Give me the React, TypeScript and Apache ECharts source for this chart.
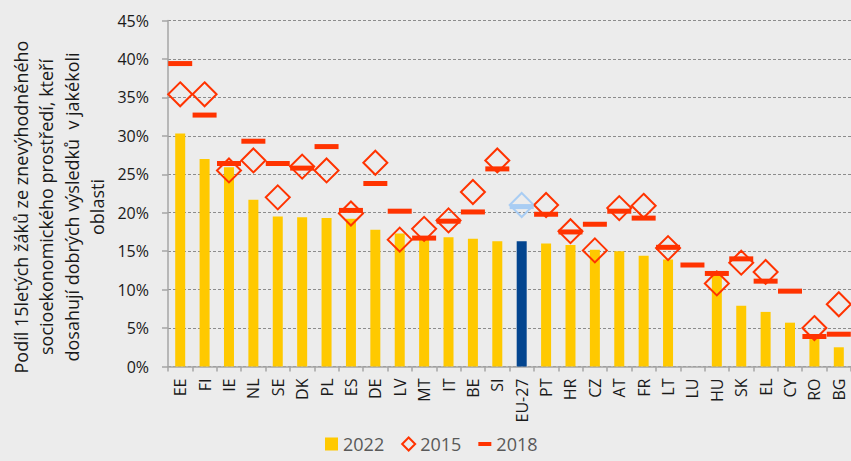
import React, { useEffect, useRef } from "react";
import * as echarts from "echarts";

const categories = ["EE","FI","IE","NL","SE","DK","PL","ES","DE","LV","MT","IT","BE","SI","EU-27","PT","HR","CZ","AT","FR","LT","LU","HU","SK","EL","CY","RO","BG"];
const values2022: (number | null)[] = [30.3,27.0,25.9,21.7,19.5,19.4,19.3,19.2,17.8,17.3,16.9,16.8,16.6,16.3,16.3,16.0,15.8,15.2,15.0,14.4,13.9,null,11.9,7.9,7.1,5.7,3.6,2.5];
const values2015: (number | null)[] = [35.4,35.4,25.5,26.8,22.0,26.0,25.5,19.9,26.5,16.5,17.9,19.0,22.7,26.8,21.0,21.0,17.6,15.1,20.6,20.9,15.4,null,10.8,13.5,12.3,null,5.0,8.1];
const values2018: (number | null)[] = [39.4,32.7,26.4,29.3,26.4,25.8,28.6,20.3,23.8,20.2,16.7,18.9,20.1,25.7,20.8,19.8,17.5,18.5,20.2,19.3,15.5,13.2,12.1,14.0,11.1,9.8,3.9,4.2];
const yTicks = [0,5,10,15,20,25,30,35,40,45];
const seriesNames = ["2022","2015","2018"];
const highlightCategory = "EU-27";
const yTitle = "Podíl 15letých žáků ze znevýhodněného\nsocioekonomického prostředí, kteří\ndosahují dobrých výsledků  v jakékoli\noblasti";

const YELLOW = "#ffc900";
const BLUE = "#03458f";
const RED = "#ff3300";
const LIGHTBLUE = "#a9cdf3";
const FONT = "'Open Sans', sans-serif";

export default function App() {
  const ref = useRef<HTMLDivElement>(null);
  useEffect(() => {
    if (!ref.current) return;
    const chart = echarts.init(ref.current, undefined, { renderer: "svg" });
    const hi = (c: string) => c === highlightCategory;
    chart.setOption({
      animation: false,
      backgroundColor: "#ececec",
      textStyle: { fontFamily: FONT },
      grid: { left: 168, right: -8, top: 20.5, bottom: 94.5 },
      xAxis: {
        type: "category",
        data: categories,
        axisLine: { lineStyle: { color: "#a6a6a6", width: 1.5 } },
        axisTick: { show: true, interval: 0, length: 5, lineStyle: { color: "#a6a6a6", width: 1.5 } },
        axisLabel: { interval: 0, rotate: 90, margin: 12, fontSize: 16, color: "#1a1a1a", fontFamily: FONT },
      },
      yAxis: {
        type: "value",
        min: yTicks[0],
        max: yTicks[yTicks.length - 1],
        interval: yTicks[1] - yTicks[0],
        axisLine: { show: true, lineStyle: { color: "#a6a6a6", width: 1.5 } },
        axisTick: { show: true, length: 6, lineStyle: { color: "#a6a6a6", width: 1.5 } },
        axisLabel: { formatter: "{value}%", margin: 19, fontSize: 16, color: "#1a1a1a", fontFamily: FONT },
        splitLine: { show: true, lineStyle: { color: "#8c8c8c", type: [3, 2], width: 1 } },
      },
      legend: {
        left: 325,
        top: 435,
        padding: 0,
        itemWidth: 13,
        itemHeight: 13,
        itemGap: 17,
        textStyle: { fontSize: 18, color: "#595959", fontFamily: FONT },
        data: [
          { name: seriesNames[0], icon: "rect", itemStyle: { color: YELLOW } },
          { name: seriesNames[1], icon: "diamond", itemStyle: { color: "rgba(0,0,0,0)", borderColor: RED, borderWidth: 2 } },
          { name: seriesNames[2], icon: "path://M0,0h13v4h-13z", itemStyle: { color: RED } },
        ],
      },
      graphic: [
        {
          type: "text",
          x: 59,
          y: 207,
          rotation: Math.PI / 2,
          style: {
            text: yTitle,
            fontSize: 18,
            fontFamily: FONT,
            fill: "#1a1a1a",
            align: "center",
            verticalAlign: "middle",
            lineHeight: 25.5,
          },
        },
      ],
      series: [
        {
          name: seriesNames[0],
          type: "bar",
          barWidth: 10,
          itemStyle: { color: YELLOW },
          data: values2022.map((v, i) => (hi(categories[i]) ? { value: v, itemStyle: { color: BLUE } } : v)),
        },
        {
          name: seriesNames[1],
          type: "scatter",
          symbol: "diamond",
          symbolSize: 24,
          itemStyle: { color: "rgba(0,0,0,0)", borderColor: RED, borderWidth: 2, opacity: 1 },
          data: values2015.map((v, i) => (hi(categories[i]) ? { value: v, itemStyle: { borderColor: LIGHTBLUE } } : v)),
        },
        {
          name: seriesNames[2],
          type: "scatter",
          symbol: "rect",
          symbolSize: [24, 5],
          itemStyle: { color: RED, opacity: 1 },
          data: values2018.map((v, i) => (hi(categories[i]) ? { value: v, itemStyle: { color: LIGHTBLUE } } : v)),
        },
      ],
    });
    return () => chart.dispose();
  }, []);
  return <div ref={ref} style={{ position: "fixed", left: 0, top: 0, width: 851, height: 461 }} />;
}
